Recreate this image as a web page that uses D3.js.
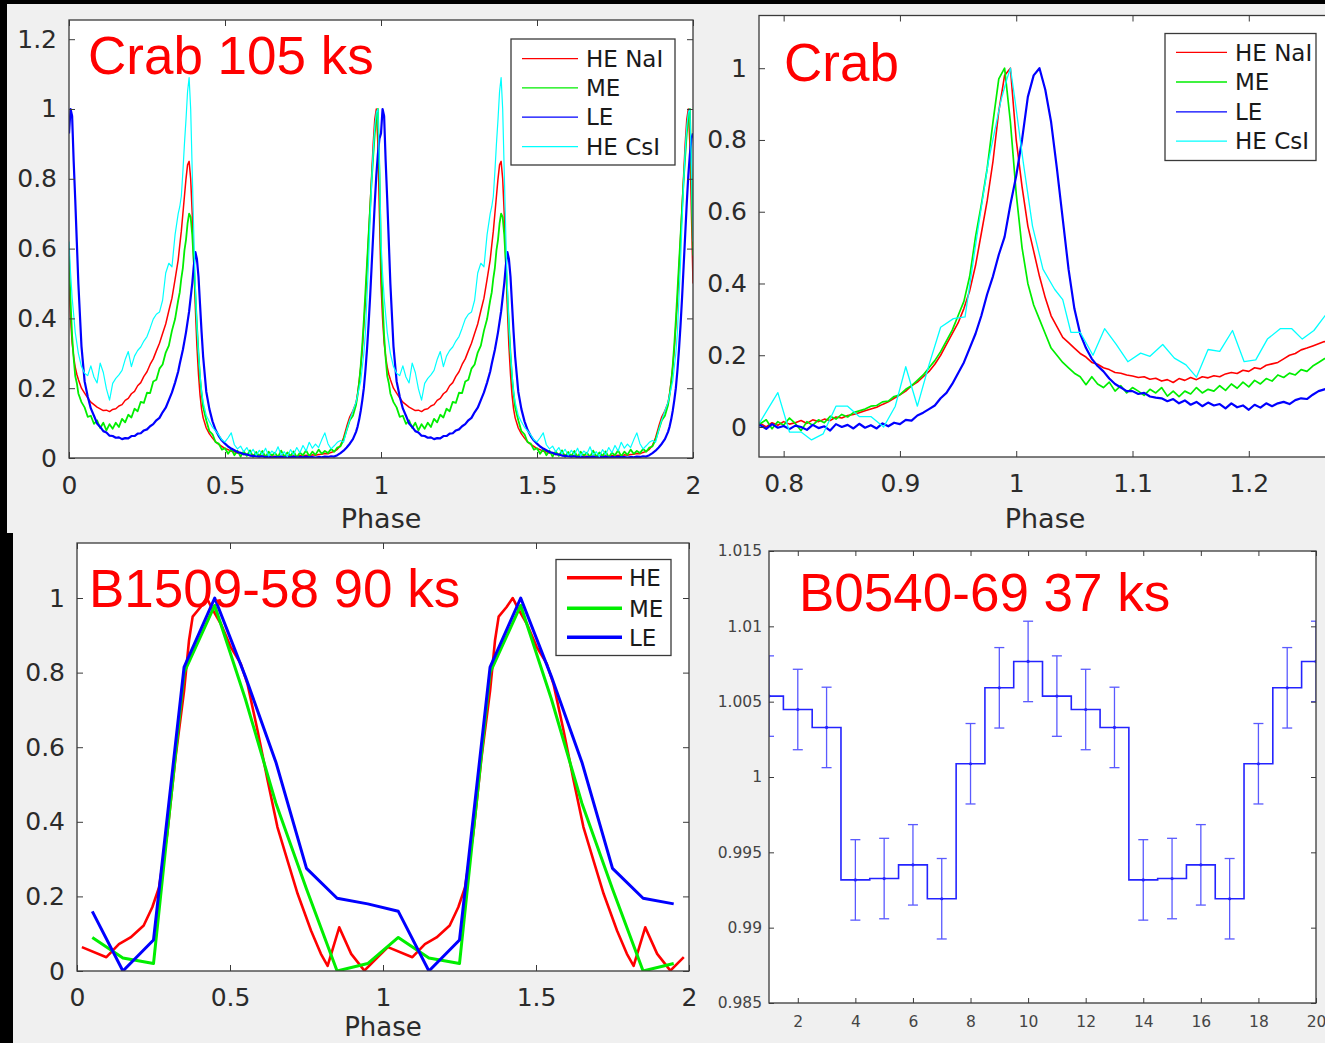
<!DOCTYPE html>
<meta charset="utf-8">
<style>
html,
body {
    margin: 0;
    padding: 0;
    overflow: hidden;
    background: #f0f0f0;
}

svg {
    display: block;
}
</style>
<svg width="1325" height="1043"></svg>
<script src="https://d3js.org/d3.v7.min.js"></script>
<script>
// ---- Crab, full two cycles (one cycle given, folded twice) ----
var crabPhase = [0, 0.005, 0.01, 0.015, 0.02, 0.025, 0.03, 0.04,
    0.05, 0.06, 0.07, 0.08, 0.09, 0.10, 0.11, 0.12, 0.13, 0.14, 0.15, 0.16, 0.17, 0.18, 0.19, 0.20, 0.21, 0.22, 0.23, 0.24, 0.25, 0.26, 0.27, 0.28, 0.29, 0.30, 0.31, 0.32, 0.33, 0.34, 0.35,
    0.355, 0.36, 0.365, 0.37, 0.375, 0.38, 0.385, 0.39, 0.395, 0.40, 0.405, 0.41, 0.415, 0.42, 0.425, 0.43,
    0.44, 0.45, 0.46, 0.47, 0.48, 0.49, 0.50, 0.51, 0.52, 0.53, 0.54, 0.55, 0.56, 0.57, 0.58, 0.59, 0.60, 0.61, 0.62, 0.63, 0.64, 0.65, 0.66, 0.67, 0.68, 0.69, 0.70, 0.71, 0.72, 0.73, 0.74, 0.75, 0.76, 0.77, 0.78, 0.79, 0.80, 0.81, 0.82, 0.83, 0.84, 0.85, 0.86, 0.87, 0.88, 0.89, 0.90, 0.91, 0.92,
    0.925, 0.93, 0.935, 0.94, 0.945, 0.95, 0.955, 0.96, 0.965, 0.97, 0.975, 0.98, 0.985, 0.99, 0.995];

var crabNaI = [0.50, 0.40, 0.33, 0.29, 0.26, 0.24, 0.225, 0.20,
    0.186, 0.172, 0.16, 0.153, 0.146, 0.141, 0.136, 0.137, 0.133, 0.139, 0.141, 0.149, 0.153, 0.165, 0.171, 0.184, 0.191, 0.207, 0.216, 0.234, 0.247, 0.268, 0.284, 0.307, 0.329, 0.357, 0.384, 0.422, 0.458, 0.512, 0.568,
    0.61, 0.65, 0.70, 0.75, 0.80, 0.84, 0.85, 0.80, 0.70, 0.56, 0.43, 0.32, 0.24, 0.18, 0.14, 0.115,
    0.086, 0.069, 0.057, 0.046, 0.039, 0.033, 0.027, 0.024, 0.019, 0.018, 0.014, 0.013, 0.01, 0.011, 0.008, 0.009, 0.006, 0.008, 0.005, 0.007, 0.004, 0.006, 0.005, 0.003, 0.006, 0.004, 0.007, 0.005, 0.006, 0.004, 0.007, 0.006, 0.008, 0.006, 0.009, 0.008, 0.01, 0.011, 0.013, 0.012, 0.016, 0.019, 0.025, 0.036, 0.058, 0.09, 0.118, 0.135, 0.158,
    0.185, 0.22, 0.26, 0.31, 0.38, 0.45, 0.54, 0.63, 0.72, 0.81, 0.9, 0.97, 1.0, 0.9, 0.7];

var crabME = [0.58, 0.45, 0.35, 0.285, 0.235, 0.215, 0.185, 0.16,
    0.145, 0.118, 0.121, 0.098, 0.108, 0.086, 0.101, 0.079, 0.097, 0.084, 0.101, 0.089, 0.112, 0.102, 0.124, 0.116, 0.141, 0.134, 0.161, 0.158, 0.187, 0.186, 0.219, 0.224, 0.256, 0.268, 0.302, 0.322, 0.365, 0.398, 0.452,
    0.475, 0.515, 0.545, 0.595, 0.625, 0.672, 0.70, 0.69, 0.64, 0.56, 0.47, 0.38, 0.30, 0.23, 0.185, 0.145,
    0.108, 0.077, 0.068, 0.045, 0.041, 0.024, 0.028, 0.012, 0.026, 0.008, 0.021, 0.004, 0.019, 0.006, 0.022, 0.003, 0.017, 0.005, 0.02, 0.002, 0.018, 0.007, 0.015, 0.003, 0.021, 0.004, 0.016, 0.006, 0.019, 0.002, 0.015, 0.008, 0.022, 0.005, 0.018, 0.009, 0.024, 0.012, 0.02, 0.014, 0.026, 0.018, 0.03, 0.033, 0.052, 0.08, 0.108, 0.121, 0.152,
    0.18, 0.215, 0.265, 0.325, 0.395, 0.475, 0.555, 0.635, 0.715, 0.795, 0.865, 0.93, 0.975, 1.0, 0.82];

var crabLE = [0.93, 1.0, 0.98, 0.85, 0.74, 0.62, 0.50, 0.32,
    0.22, 0.176, 0.142, 0.121, 0.099, 0.089, 0.077, 0.073, 0.064, 0.063, 0.058, 0.059, 0.054, 0.057, 0.056, 0.063, 0.063, 0.07, 0.071, 0.079, 0.082, 0.091, 0.097, 0.108, 0.115, 0.131, 0.144, 0.166, 0.188, 0.216, 0.248,
    0.27, 0.29, 0.31, 0.335, 0.36, 0.39, 0.42, 0.46, 0.50, 0.55, 0.59, 0.57, 0.52, 0.44, 0.36, 0.29,
    0.19, 0.14, 0.105, 0.08, 0.063, 0.05, 0.041, 0.033, 0.027, 0.022, 0.017, 0.015, 0.011, 0.01, 0.007, 0.006, 0.005, 0.004, 0.005, 0.002, 0.004, 0.001, 0.003, 0.002, 0.004, 0.001, 0.003, 0.002, 0.004, 0.001, 0.003, 0.002, 0.004, 0.002, 0.003, 0.001, 0.003, 0.002, 0.004, 0.003, 0.005, 0.004, 0.008, 0.014, 0.021, 0.03, 0.041, 0.054, 0.075,
    0.09, 0.11, 0.135, 0.165, 0.2, 0.25, 0.31, 0.38, 0.46, 0.55, 0.64, 0.73, 0.81, 0.87, 0.915];

var crabCsI = [0.62, 0.53, 0.46, 0.41, 0.36, 0.33, 0.30, 0.262,
    0.243, 0.236, 0.264, 0.232, 0.215, 0.272, 0.245, 0.198, 0.166, 0.214, 0.228, 0.238, 0.251, 0.282, 0.305, 0.262, 0.292, 0.308, 0.318, 0.335, 0.348, 0.372, 0.398, 0.412, 0.418, 0.452, 0.53, 0.558, 0.548, 0.64, 0.70,
    0.72, 0.75, 0.82, 0.90, 0.97, 1.05, 1.09, 1.0, 0.82, 0.64, 0.49, 0.38, 0.30, 0.24, 0.19, 0.16,
    0.122, 0.104, 0.088, 0.078, 0.066, 0.052, 0.046, 0.058, 0.072, 0.038, 0.026, 0.034, 0.018, 0.03, 0.012, 0.025, 0.008, 0.022, 0.01, 0.028, 0.006, 0.02, 0.012, 0.032, 0.008, 0.018, 0.004, 0.024, 0.01, 0.03, 0.015, 0.036, 0.02, 0.045, 0.028, 0.04, 0.03, 0.052, 0.072, 0.041, 0.026, 0.035, 0.045, 0.05, 0.045, 0.08, 0.11, 0.135, 0.16,
    0.18, 0.2, 0.22, 0.26, 0.3, 0.36, 0.46, 0.56, 0.68, 0.79, 0.88, 0.95, 0.99, 1.0, 0.84];

// ---- Crab, zoom on the main peak (bins of 0.005 from 0.775) ----
var zoomPhase = d3.range(106).map(function(i) { return +(0.775 + 0.005 * i).toFixed(3); });

var zoomNaI = [0.005, 0.01, 0.0, 0.012, 0.005, 0.015, 0.008, 0.012, 0.018, 0.01,
    0.02, 0.015, 0.022, 0.018, 0.028, 0.025, 0.032, 0.035, 0.04, 0.045,
    0.05, 0.055, 0.063, 0.07, 0.08, 0.09, 0.1, 0.115, 0.125, 0.14,
    0.155, 0.175, 0.2, 0.23, 0.26, 0.29, 0.33, 0.38, 0.45, 0.54,
    0.63, 0.74, 0.88, 0.98, 1.0, 0.80, 0.67, 0.56, 0.49, 0.42,
    0.36, 0.31, 0.28, 0.25, 0.235, 0.22, 0.205, 0.195, 0.18, 0.175,
    0.165, 0.16, 0.152, 0.15, 0.145, 0.142, 0.138, 0.14, 0.133, 0.136,
    0.128, 0.132, 0.124, 0.135, 0.13, 0.138, 0.132, 0.14, 0.137, 0.143,
    0.14, 0.148, 0.152, 0.149, 0.158, 0.155, 0.165, 0.162, 0.172, 0.176,
    0.18, 0.19, 0.2, 0.205, 0.215, 0.22, 0.226, 0.232, 0.238, 0.236,
    0.245, 0.25, 0.255, 0.258, 0.262, 0.265];

var zoomME = [0.0, 0.01, 0.02, -0.005, 0.015, 0.005, 0.025, 0.01, -0.01, 0.015,
    0.005, 0.02, 0.012, 0.03, 0.022, 0.035, 0.028, 0.04, 0.045, 0.05,
    0.058, 0.06, 0.07, 0.072, 0.085, 0.09, 0.105, 0.115, 0.13, 0.145,
    0.165, 0.185, 0.21, 0.24, 0.27, 0.31, 0.35, 0.42, 0.53, 0.62,
    0.72, 0.85, 0.97, 1.0, 0.85, 0.65, 0.50, 0.40, 0.34, 0.30,
    0.26, 0.22, 0.2, 0.18, 0.165, 0.15, 0.14, 0.118, 0.14, 0.12,
    0.11, 0.125, 0.1, 0.115, 0.095, 0.11, 0.1, 0.088, 0.105, 0.095,
    0.11, 0.086, 0.1, 0.085, 0.1, 0.092, 0.11, 0.095, 0.105, 0.1,
    0.115, 0.102, 0.12, 0.108, 0.125, 0.112, 0.13, 0.12, 0.135, 0.128,
    0.145, 0.138, 0.15, 0.145, 0.16, 0.155, 0.17, 0.18, 0.19, 0.2,
    0.195, 0.205, 0.2, 0.21, 0.215, 0.22];

var zoomLE = [0.0, 0.005, -0.005, 0.008, -0.002, 0.003, -0.006, 0.004, 0.0, -0.008,
    0.006, -0.003, 0.002, -0.01, 0.008, 0.0, 0.006, -0.004, 0.009, -0.002,
    0.005, -0.004, 0.01, 0.002, 0.012, 0.008, 0.02, 0.018, 0.032, 0.04,
    0.05, 0.06, 0.08, 0.095, 0.12, 0.15, 0.18, 0.22, 0.26, 0.31,
    0.37, 0.42, 0.48, 0.53, 0.62, 0.70, 0.80, 0.92, 0.98, 1.0,
    0.94, 0.85, 0.72, 0.58, 0.44, 0.33, 0.26, 0.22, 0.19, 0.17,
    0.155, 0.135, 0.12, 0.11, 0.1, 0.1, 0.092, 0.095, 0.085, 0.082,
    0.08, 0.072, 0.078, 0.066, 0.074, 0.062, 0.07, 0.058, 0.068, 0.06,
    0.064, 0.052, 0.066, 0.055, 0.06, 0.048, 0.062, 0.054, 0.066, 0.058,
    0.066, 0.07, 0.064, 0.075, 0.08, 0.078, 0.09, 0.1, 0.105, 0.11,
    0.108, 0.115, 0.12, 0.118, 0.125, 0.13];

var zoomCsIPhase = [0.779, 0.795, 0.805, 0.815, 0.824, 0.834, 0.845, 0.855, 0.865, 0.875, 0.886, 0.896, 0.905, 0.915, 0.925, 0.935, 0.946, 0.956, 0.966, 0.976, 0.987, 0.992, 0.995, 0.999, 1.006, 1.014, 1.023, 1.033, 1.04, 1.047, 1.055, 1.066, 1.076, 1.086, 1.096, 1.107, 1.115, 1.126, 1.136, 1.146, 1.155, 1.165, 1.175, 1.186, 1.196, 1.206, 1.216, 1.227, 1.237, 1.246, 1.256, 1.266, 1.276];
var zoomCsI = [0.01, 0.096, -0.014, -0.014, -0.036, -0.019, 0.058, 0.058, 0.029, 0.029, 0.0, 0.058, 0.168, 0.058, 0.173, 0.278, 0.302, 0.307, 0.528, 0.739, 0.912, 0.97, 1.0, 0.91, 0.739, 0.56, 0.44, 0.384, 0.355, 0.264, 0.264, 0.2, 0.274, 0.23, 0.182, 0.206, 0.197, 0.23, 0.192, 0.173, 0.139, 0.216, 0.211, 0.269, 0.182, 0.187, 0.245, 0.274, 0.274, 0.245, 0.269, 0.312, 0.3];

// ---- B1509-58 ----
var b1509Phase = [0.05, 0.15, 0.25, 0.35, 0.45, 0.55, 0.65, 0.75, 0.85, 0.95];
var b1509ME = [0.09, 0.035, 0.02, 0.80, 0.98, 0.73, 0.45, 0.22, 0.0, 0.02];
var b1509LE = [0.16, 0.0, 0.083, 0.815, 1.0, 0.79, 0.56, 0.275, 0.195, 0.18];
var b1509HePhase = [0.016, 0.096, 0.137, 0.175, 0.218, 0.246, 0.268, 0.295, 0.322, 0.35, 0.366, 0.378, 0.404, 0.424, 0.442, 0.47, 0.502, 0.535, 0.557, 0.59, 0.623, 0.655, 0.688, 0.721, 0.765, 0.797, 0.819, 0.857, 0.896, 0.939, 0.983];
var b1509HE = [0.064, 0.037, 0.072, 0.09, 0.122, 0.171, 0.224, 0.368, 0.573, 0.752, 0.886, 0.95, 0.976, 1.0, 0.971, 0.931, 0.869, 0.824, 0.77, 0.645, 0.511, 0.386, 0.296, 0.207, 0.108, 0.046, 0.014, 0.117, 0.046, 0.001, 0.037];

// ---- B0540-69 ----
var b0540Bin = [1, 2, 3, 4, 5, 6, 7, 8, 9, 10, 11, 12, 13, 14, 15, 16, 17, 18, 19, 20];
var b0540Rate = [1.00537, 1.00448, 1.00329, 0.99317, 0.99326, 0.99417, 0.99192, 1.00088, 1.00592, 1.00767,
    1.00537, 1.00448, 1.00329, 0.99317, 0.99326, 0.99417, 0.99192, 1.00088, 1.00592, 1.00767];
var b0540Err = [0.00267, 0.00267, 0.00267, 0.00267, 0.00267, 0.00267, 0.00267, 0.00267, 0.00267, 0.00267,
    0.00267, 0.00267, 0.00267, 0.00267, 0.00267, 0.00267, 0.00267, 0.00267, 0.00267, 0.00267];

var RED = "#ff0000", GREEN = "#00ee00", BLUE = "#0000ff", CYAN = "#00ffff";
var TICKFONT = "'DejaVu Sans', Verdana, sans-serif";
var TITLEFONT = "'Liberation Sans', Arial, sans-serif";

var svg = d3.select("svg");

svg.append("rect").attr("width", 1325).attr("height", 1043).attr("fill", "#f0f0f0");
svg.append("rect").attr("width", 1325).attr("height", 4).attr("fill", "#000");
svg.append("rect").attr("width", 7).attr("height", 534).attr("fill", "#000");
svg.append("rect").attr("y", 533).attr("width", 13).attr("height", 510).attr("fill", "#000");

function panel(o) {
    var x = d3.scaleLinear().domain(o.xDomain).range([o.left, o.right]);
    var y = d3.scaleLinear().domain(o.yDomain).range([o.bottom, o.top]);
    var g = svg.append("g");
    g.append("rect")
        .attr("x", o.left).attr("y", o.top)
        .attr("width", o.right - o.left).attr("height", o.bottom - o.top)
        .attr("fill", "#fff");
    svg.append("clipPath").attr("id", o.id).append("rect")
        .attr("x", o.left).attr("y", o.top)
        .attr("width", o.right - o.left).attr("height", o.bottom - o.top);
    var plot = g.append("g").attr("clip-path", "url(#" + o.id + ")");
    var frame = g.append("g");
    var fmt = d3.format("~g");

    frame.append("g").attr("transform", "translate(0," + o.bottom + ")")
        .call(d3.axisBottom(x).tickValues(o.xTicks).tickFormat(fmt).tickSize(-o.tick).tickPadding(o.xPad));
    frame.append("g").attr("transform", "translate(0," + o.top + ")")
        .call(d3.axisTop(x).tickValues(o.xTicks).tickFormat("").tickSize(-o.tick));
    frame.append("g").attr("transform", "translate(" + o.left + ",0)")
        .call(d3.axisLeft(y).tickValues(o.yTicks).tickFormat(fmt).tickSize(-o.tick).tickPadding(o.yPad));
    frame.append("g").attr("transform", "translate(" + o.right + ",0)")
        .call(d3.axisRight(y).tickValues(o.yTicks).tickFormat("").tickSize(-o.tick));
    frame.selectAll(".domain").remove();
    frame.selectAll("g")
        .attr("font-family", TICKFONT)
        .attr("font-size", o.font)
        .attr("color", o.textColor || "#2b2b2b");
    frame.selectAll(".tick line").attr("stroke", "#3a3a3a");

    frame.append("rect")
        .attr("x", o.left).attr("y", o.top)
        .attr("width", o.right - o.left).attr("height", o.bottom - o.top)
        .attr("fill", "none").attr("stroke", "#3a3a3a").attr("stroke-width", 1.3);

    if (o.xLabel) {
        g.append("text")
            .attr("x", o.xLabel[0]).attr("y", o.xLabel[1])
            .attr("text-anchor", "middle")
            .attr("font-family", TICKFONT).attr("font-size", o.xLabel[2] || 27)
            .attr("fill", "#2b2b2b")
            .text("Phase");
    }
    return { g: g, plot: plot, x: x, y: y };
}

function drawLine(p, pts, color, width) {
    p.plot.append("path").datum(pts)
        .attr("fill", "none")
        .attr("stroke", color)
        .attr("stroke-width", width)
        .attr("stroke-linejoin", "round")
        .attr("d", d3.line()
            .x(function(d) { return p.x(d[0]); })
            .y(function(d) { return p.y(d[1]); }));
}

function pairs(phase, vals) {
    return phase.map(function(ph, i) { return [ph, vals[i]]; })
        .filter(function(d) { return d[1] != null; });
}

function twoCycles(phase, vals) {
    var pts = pairs(phase, vals);
    return pts.concat(pts.map(function(d) { return [d[0] + 1, d[1]]; }));
}

function legend(p, b, items, lineW) {
    var lg = p.g.append("g");
    lg.append("rect")
        .attr("x", b.x).attr("y", b.y).attr("width", b.w).attr("height", b.h)
        .attr("fill", "#fff").attr("stroke", "#3a3a3a").attr("stroke-width", 1.3);
    items.forEach(function(it, i) {
        var yy = b.rows[i];
        lg.append("line")
            .attr("x1", b.l1).attr("x2", b.l2).attr("y1", yy).attr("y2", yy)
            .attr("stroke", it[1]).attr("stroke-width", lineW);
        lg.append("text")
            .attr("x", b.tx).attr("y", yy)
            .attr("dy", "0.36em")
            .attr("font-family", TICKFONT).attr("font-size", 23)
            .attr("fill", "#1a1a1a")
            .text(it[0]);
    });
}

function title(p, txt, x, y, size) {
    p.g.append("text")
        .attr("x", x).attr("y", y)
        .attr("font-family", TITLEFONT).attr("font-size", size)
        .attr("fill", "#ff0000")
        .text(txt);
}

// ---------- panel 1 : Crab 105 ks ----------
var p1 = panel({
    id: "c1", left: 69, right: 693, top: 20, bottom: 458,
    xDomain: [0, 2], yDomain: [0, 1.255],
    xTicks: [0, 0.5, 1, 1.5, 2], yTicks: [0, 0.2, 0.4, 0.6, 0.8, 1, 1.2],
    tick: 6, font: 25, xPad: 18, yPad: 12, xLabel: [381, 528]
});
[[crabNaI, RED, 1.5], [crabME, GREEN, 1.8], [crabLE, BLUE, 2.2], [crabCsI, CYAN, 1.2]].forEach(function(s) {
    var pts = twoCycles(crabPhase, s[0]);
    pts.push([2, s[0][0]]);
    drawLine(p1, pts, s[1], s[2]);
});
legend(p1, { x: 511, y: 39, w: 164, h: 126, l1: 522, l2: 578, tx: 586, rows: [58.6, 87.9, 117.2, 146.6] },
    [["HE NaI", RED], ["ME", GREEN], ["LE", BLUE], ["HE CsI", CYAN]], 1.3);
title(p1, "Crab 105 ks", 88, 74, 53);

// ---------- panel 2 : Crab zoom ----------
var p2 = panel({
    id: "c2", left: 759, right: 1331, top: 15.5, bottom: 457,
    xDomain: [0.7788, 1.2707], yDomain: [-0.0836, 1.1469],
    xTicks: [0.8, 0.9, 1, 1.1, 1.2], yTicks: [0, 0.2, 0.4, 0.6, 0.8, 1],
    tick: 6, font: 25, xPad: 17, yPad: 12, xLabel: [1045, 528]
});
drawLine(p2, pairs(zoomPhase, zoomNaI), RED, 1.6);
drawLine(p2, pairs(zoomPhase, zoomME), GREEN, 1.7);
drawLine(p2, pairs(zoomPhase, zoomLE), BLUE, 2.2);
drawLine(p2, pairs(zoomCsIPhase, zoomCsI), CYAN, 1.3);
legend(p2, { x: 1165, y: 33.5, w: 151, h: 127, l1: 1176, l2: 1227, tx: 1235, rows: [52.3, 82, 111.9, 141.2] },
    [["HE NaI", RED], ["ME", GREEN], ["LE", BLUE], ["HE CsI", CYAN]], 1.3);
title(p2, "Crab", 784, 80.5, 53);

// ---------- panel 3 : B1509-58 ----------
var p3 = panel({
    id: "c3", left: 77, right: 689, top: 543, bottom: 971,
    xDomain: [0, 2], yDomain: [0, 1.1475],
    xTicks: [0, 0.5, 1, 1.5, 2], yTicks: [0, 0.2, 0.4, 0.6, 0.8, 1],
    tick: 6, font: 25, xPad: 17, yPad: 12, xLabel: [383, 1036, 26]
});
drawLine(p3, twoCycles(b1509HePhase, b1509HE), RED, 2.6);
drawLine(p3, twoCycles(b1509Phase, b1509ME), GREEN, 3);
drawLine(p3, twoCycles(b1509Phase, b1509LE), BLUE, 3);
legend(p3, { x: 556, y: 559.5, w: 115, h: 96, l1: 567, l2: 622, tx: 629, rows: [577.7, 608.3, 637.3] },
    [["HE", RED], ["ME", GREEN], ["LE", BLUE]], 3.5);
title(p3, "B1509-58 90 ks", 89, 606.5, 53);

// ---------- panel 4 : B0540-69 ----------
var p4 = panel({
    id: "c4", left: 769, right: 1316, top: 551, bottom: 1003,
    xDomain: [1, 20], yDomain: [0.985, 1.015],
    xTicks: [2, 4, 6, 8, 10, 12, 14, 16, 18, 20],
    yTicks: [0.985, 0.99, 0.995, 1, 1.005, 1.01, 1.015],
    tick: 5, font: 15.5, xPad: 13, yPad: 7, textColor: "#444"
});
var b0540 = b0540Bin.map(function(b, i) { return { x: b, v: b0540Rate[i], e: b0540Err[i] }; });
p4.plot.append("path").datum(b0540)
    .attr("fill", "none").attr("stroke", "#2424ff").attr("stroke-width", 1.6)
    .attr("d", d3.line().curve(d3.curveStep)
        .x(function(d) { return p4.x(d.x); })
        .y(function(d) { return p4.y(d.v); }));
var eb = p4.plot.selectAll("g.eb").data(b0540).enter().append("g")
    .attr("stroke", "#5a5aff").attr("stroke-width", 1.3);
eb.append("line")
    .attr("x1", function(d) { return p4.x(d.x); }).attr("x2", function(d) { return p4.x(d.x); })
    .attr("y1", function(d) { return p4.y(d.v - d.e); }).attr("y2", function(d) { return p4.y(d.v + d.e); });
eb.append("line")
    .attr("x1", function(d) { return p4.x(d.x) - 5; }).attr("x2", function(d) { return p4.x(d.x) + 5; })
    .attr("y1", function(d) { return p4.y(d.v + d.e); }).attr("y2", function(d) { return p4.y(d.v + d.e); });
eb.append("line")
    .attr("x1", function(d) { return p4.x(d.x) - 5; }).attr("x2", function(d) { return p4.x(d.x) + 5; })
    .attr("y1", function(d) { return p4.y(d.v - d.e); }).attr("y2", function(d) { return p4.y(d.v - d.e); });
eb.append("circle")
    .attr("cx", function(d) { return p4.x(d.x); })
    .attr("cy", function(d) { return p4.y(d.v); })
    .attr("r", 1.6).attr("fill", "#2424ff").attr("stroke", "none");
title(p4, "B0540-69 37 ks", 799, 611, 53);
</script>
